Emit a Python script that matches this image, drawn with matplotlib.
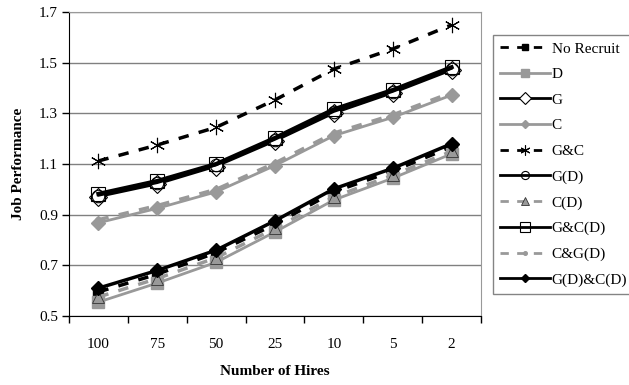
import matplotlib
matplotlib.use("Agg")
import matplotlib.pyplot as plt
import numpy as np

plt.rcParams['font.family'] = ['Liberation Serif', 'DejaVu Serif']

hires = ["100", "75", "50", "25", "10", "5", "2"]

no_recruit = [0.595, 0.665, 0.750, 0.862, 0.990, 1.072, 1.168]
d_vals     = [0.555, 0.630, 0.712, 0.832, 0.958, 1.044, 1.140]
g_vals     = [0.970, 1.020, 1.090, 1.190, 1.300, 1.380, 1.470]
c_vals     = [0.868, 0.925, 0.990, 1.094, 1.212, 1.284, 1.372]
gc_vals    = [1.112, 1.175, 1.245, 1.353, 1.475, 1.554, 1.649]
gd_vals    = [0.975, 1.025, 1.095, 1.196, 1.306, 1.385, 1.476]
cd_vals    = [0.575, 0.648, 0.730, 0.846, 0.970, 1.056, 1.150]
gcd_vals   = [0.982, 1.033, 1.100, 1.203, 1.316, 1.392, 1.482]
cgd_vals   = [0.880, 0.936, 1.000, 1.104, 1.222, 1.294, 1.382]
gdcd_vals  = [0.610, 0.680, 0.760, 0.876, 1.002, 1.083, 1.180]

gray = '#999999'
x = np.arange(len(hires))

fig = plt.figure(figsize=(6.29, 3.85), dpi=100)
ax = fig.add_axes([69/629, 1 - 316/385, (481-69)/629, (316-12)/385])

ast = (6, 2, 0)
series = [
    ("No Recruit", no_recruit, dict(color='black', ls=(0, (3, 3)), lw=2.5, marker='s', ms=7, mfc='black', mec='black')),
    ("D", d_vals, dict(color=gray, ls='-', lw=2, marker='s', ms=8, mfc=gray, mec=gray)),
    ("G", g_vals, dict(color='black', ls='-', lw=1.5, marker='D', ms=9, mfc='white', mec='black', mew=0.8)),
    ("C", c_vals, dict(color=gray, ls='-', lw=2, marker='D', ms=7, mfc=gray, mec=gray)),
    ("G&C", gc_vals, dict(color='black', ls=(0, (3, 3)), lw=2.5, marker=ast, ms=11, mfc='black', mec='black', mew=0.8)),
    ("G(D)", gd_vals, dict(color='black', ls='-', lw=1.5, marker='o', ms=9, mfc='none', mec='black', mew=0.8)),
    ("C(D)", cd_vals, dict(color=gray, ls=(0, (3, 3)), lw=2.5, marker='^', ms=9, mfc=gray, mec='#333333', mew=0.6)),
    ("G&C(D)", gcd_vals, dict(color='black', ls='-', lw=3, marker='s', ms=10, mfc='none', mec='black', mew=0.8)),
    ("C&G(D)", cgd_vals, dict(color=gray, ls=(0, (3, 3)), lw=2.5, marker='o', ms=4, mfc=gray, mec=gray)),
    ("G(D)&C(D)", gdcd_vals, dict(color='black', ls='-', lw=2.5, marker='D', ms=7, mfc='black', mec='black')),
]

for name, vals, style in series:
    ax.plot(x, vals, label=name, **style)

ax.set_xlim(-0.5, len(hires) - 0.5)
ax.set_ylim(0.5, 1.7)
ax.set_yticks(np.arange(0.5, 1.71, 0.2))
ax.set_yticklabels(["0.5", "0.7", "0.9", "1.1", "1.3", "1.5", "1.7"])
ax.set_xticks(x)
ax.set_xticklabels(hires)
ax.set_xticks(np.arange(-0.5, len(hires), 1.0), minor=True)
ax.tick_params(axis='x', which='major', length=0, pad=16, labelsize=11)
ax.tick_params(axis='x', which='minor', length=5, width=1, direction='out')
ax.tick_params(axis='y', length=5, width=1, direction='out', labelsize=11, pad=3)
ax.yaxis.grid(True, color='#808080', lw=1)
ax.set_axisbelow(True)
for s in ['top', 'right']:
    ax.spines[s].set_color('#999999')
for s in ['left', 'bottom']:
    ax.spines[s].set_color('black')

ax.set_ylabel("Job Performance", fontsize=11, fontweight='bold', labelpad=10)
ax.set_xlabel("Number of Hires", fontsize=11, fontweight='bold', labelpad=10)

leg = fig.legend(loc='upper left', bbox_to_anchor=(493/629, 1 - 35/385), fontsize=11,
                 handlelength=3.3, handletextpad=0.1, labelspacing=0.78, borderpad=0.45,
                 borderaxespad=0, frameon=True, fancybox=False, markerscale=0.65)
leg.get_frame().set_edgecolor('#666666')
leg.get_frame().set_linewidth(1)
for h in leg.legend_handles:
    h.set_linewidth(2)

fig.savefig("out.png", dpi=100)
